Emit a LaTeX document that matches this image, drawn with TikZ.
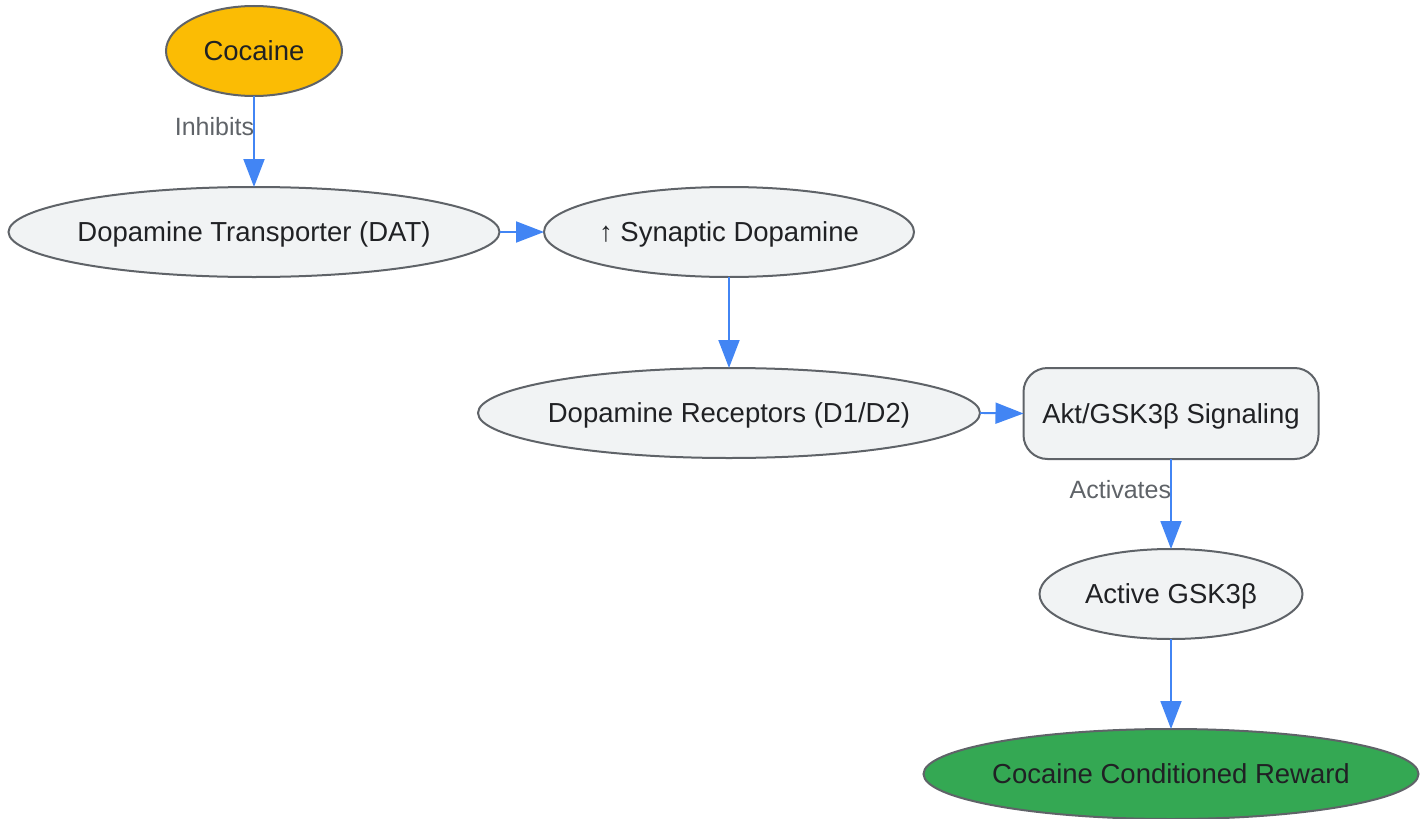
\documentclass[tikz,border=0pt]{standalone}
\usepackage{fontspec}
\setmainfont{Liberation Sans}
\usetikzlibrary{shapes.geometric,arrows.meta}
\definecolor{nodefill}{HTML}{F1F3F4}
\definecolor{nodeline}{HTML}{5F6368}
\definecolor{nodetext}{HTML}{202124}
\definecolor{cocfill}{HTML}{FBBC04}
\definecolor{rewfill}{HTML}{34A853}
\definecolor{edgecol}{HTML}{4285F4}
\definecolor{labcol}{HTML}{5F6368}
\tikzset{
  ntext/.style={text=nodetext, font=\fontsize{27.5}{30}\selectfont, inner sep=0pt,
    text height=20pt, text depth=6pt, yshift=-2.5pt},
  base/.style={draw=nodeline, line width=2pt, fill=nodefill,
    inner sep=0pt, outer sep=0pt},
  oval/.style={base, ellipse, minimum height=90pt},
  rbox/.style={base, rectangle, rounded corners=24pt, minimum height=91pt},
  edge/.style={draw=edgecol, line width=1.9pt, -{Triangle[length=28pt,width=21pt]}},
  elabel/.style={text=labcol, font=\fontsize{25}{27}\selectfont, inner sep=0pt}
}
\begin{document}
\begin{tikzpicture}[x=1pt,y=-1pt]
\useasboundingbox (0,0) rectangle (1428,819);
\node[oval, fill=cocfill, minimum width=176pt, label={[ntext]center:Cocaine}] (coc) at (254,51) {};
\node[oval, minimum width=491pt, label={[ntext]center:Dopamine Transporter (DAT)}] (dat) at (254,232) {};
\node[oval, minimum width=370pt, label={[ntext]center:↑ Synaptic Dopamine}] (syn) at (729,232) {};
\node[oval, minimum width=502pt, label={[ntext]center:Dopamine Receptors (D1/D2)}] (rec) at (729,413) {};
\node[rbox, minimum width=295pt, label={[ntext]center:Akt/GSK3β Signaling}] (akt) at (1171,413.5) {};
\node[oval, minimum width=263pt, label={[ntext]center:Active GSK3β}] (gsk) at (1171,594) {};
\node[oval, fill=rewfill, minimum width=495pt, label={[ntext]center:Cocaine Conditioned Reward}] (rew) at (1171,774) {};
\draw[edge] (coc.south) -- node[elabel, anchor=east, pos=0.35, xshift=1pt, yshift=1pt] {Inhibits} (dat.north);
\draw[edge] (dat.east) -- (syn.west);
\draw[edge] (syn.south) -- (rec.north);
\draw[edge] (rec.east) -- (akt.west);
\draw[edge] (akt.south) -- node[elabel, anchor=east, pos=0.35, xshift=1pt, yshift=1pt] {Activates} (gsk.north);
\draw[edge] (gsk.south) -- (rew.north);
\end{tikzpicture}
\end{document}
